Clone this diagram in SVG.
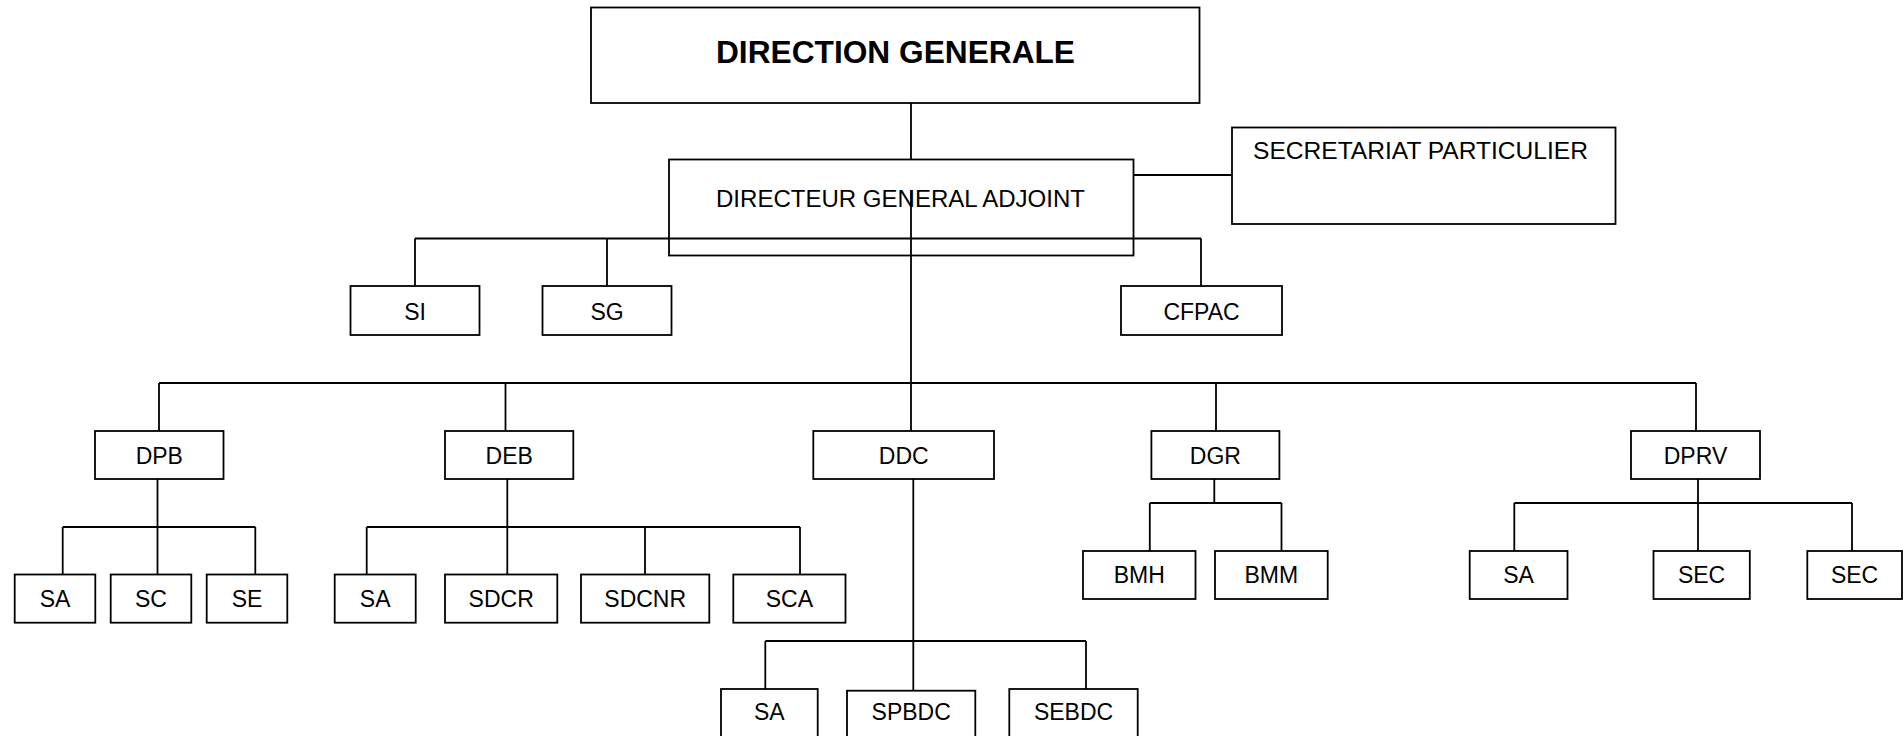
<svg xmlns="http://www.w3.org/2000/svg" width="1903" height="736" viewBox="0 0 1903 736">
<style>
.b{fill:#fff;stroke:#000;stroke-width:1.8}
.c{fill:none;stroke:#000;stroke-width:1.8}
text{font-family:"Liberation Sans",Arial,sans-serif;font-size:23px;fill:#000;text-anchor:middle}
.t{font-weight:bold;font-size:31px}
</style>
<rect width="1903" height="736" fill="#fff"/>
<g id="connectors" class="c">
<path d="M911 103V159.5"/>
<path d="M1133.5 175H1232"/>
<path d="M911 190V383"/>
<path d="M415 238.5H1201M415 238.5V286M607 238.5V286M1201 238.5V286"/>
<path d="M159 383H1696M159 383V431M505.5 383V431M911 383V431M1216 383V431M1696 383V431"/>
<path d="M157.5 479V527M62.7 527H255.3M62.7 527V574.5M157.5 527V574.5M255.3 527V574.5"/>
<path d="M507.3 479V527M366.7 527H800M366.7 527V574.5M507.3 527V574.5M645 527V574.5M800 527V574.5"/>
<path d="M913.3 479V690.7M765.3 641H1086M765.3 641V689M1086 641V689"/>
<path d="M1214.3 479V503M1149.8 503H1281.5M1149.8 503V551M1281.5 503V551"/>
<path d="M1698 479V503M1514.3 503H1852M1514.3 503V551M1698 503V551M1852 503V551"/>
</g>
<g id="dg"><rect class="b" x="591" y="7.5" width="608.5" height="95.5"/><text class="t" x="895.5" y="63.3" textLength="359" lengthAdjust="spacingAndGlyphs">DIRECTION GENERALE</text></g>
<g id="dga"><rect class="b" x="669" y="159.5" width="464.5" height="96" fill-opacity="0"/><text x="900.5" y="206.7" textLength="369" lengthAdjust="spacingAndGlyphs">DIRECTEUR GENERAL ADJOINT</text></g>
<g id="sp"><rect class="b" x="1232" y="127.5" width="383.5" height="96.5"/><text x="1420.5" y="159" textLength="335" lengthAdjust="spacingAndGlyphs">SECRETARIAT PARTICULIER</text></g>
<g id="si"><rect class="b" x="350.5" y="286" width="129" height="49"/><text x="415" y="319.5">SI</text></g>
<g id="sg"><rect class="b" x="542.5" y="286" width="129" height="49"/><text x="607" y="319.5">SG</text></g>
<g id="cfpac"><rect class="b" x="1121" y="286" width="161" height="49"/><text x="1201.5" y="319.5">CFPAC</text></g>
<g id="dpb"><rect class="b" x="95" y="431" width="128.5" height="48"/><text x="159.3" y="463.5">DPB</text></g>
<g id="deb"><rect class="b" x="445" y="431" width="128.3" height="48"/><text x="509.2" y="463.5">DEB</text></g>
<g id="ddc"><rect class="b" x="813.3" y="431" width="180.7" height="48"/><text x="903.7" y="463.5">DDC</text></g>
<g id="dgr"><rect class="b" x="1151.4" y="431" width="128" height="48"/><text x="1215.4" y="463.5">DGR</text></g>
<g id="dprv"><rect class="b" x="1631" y="431" width="129" height="48"/><text x="1695.5" y="463.5">DPRV</text></g>
<g id="dpb-sa"><rect class="b" x="14.7" y="574.5" width="80.6" height="48.2"/><text x="55" y="607.3">SA</text></g>
<g id="dpb-sc"><rect class="b" x="110.7" y="574.5" width="80.6" height="48.2"/><text x="151" y="607.3">SC</text></g>
<g id="dpb-se"><rect class="b" x="206.7" y="574.5" width="80.6" height="48.2"/><text x="247" y="607.3">SE</text></g>
<g id="deb-sa"><rect class="b" x="334.7" y="574.5" width="81" height="48.2"/><text x="375.2" y="607.3">SA</text></g>
<g id="deb-sdcr"><rect class="b" x="445" y="574.5" width="112.3" height="48.2"/><text x="501.2" y="607.3">SDCR</text></g>
<g id="deb-sdcnr"><rect class="b" x="581" y="574.5" width="128.3" height="48.2"/><text x="645.2" y="607.3">SDCNR</text></g>
<g id="deb-sca"><rect class="b" x="733.3" y="574.5" width="112.2" height="48.2"/><text x="789.4" y="607.3">SCA</text></g>
<g id="ddc-sa"><rect class="b" x="721" y="689" width="96.7" height="50"/><text x="769.3" y="720">SA</text></g>
<g id="ddc-spbdc"><rect class="b" x="847" y="690.7" width="128.3" height="50"/><text x="911.2" y="720">SPBDC</text></g>
<g id="ddc-sebdc"><rect class="b" x="1009.3" y="689" width="128.4" height="50"/><text x="1073.5" y="720">SEBDC</text></g>
<g id="dgr-bmh"><rect class="b" x="1083" y="551" width="112.5" height="48"/><text x="1139.3" y="583">BMH</text></g>
<g id="dgr-bmm"><rect class="b" x="1215" y="551" width="112.7" height="48"/><text x="1271.3" y="583">BMM</text></g>
<g id="dprv-sa"><rect class="b" x="1469.7" y="551" width="97.8" height="48"/><text x="1518.6" y="583">SA</text></g>
<g id="dprv-sec1"><rect class="b" x="1653.5" y="551" width="96.3" height="48"/><text x="1701.6" y="583">SEC</text></g>
<g id="dprv-sec2"><rect class="b" x="1807.3" y="551" width="94.7" height="48"/><text x="1854.6" y="583">SEC</text></g>
</svg>
